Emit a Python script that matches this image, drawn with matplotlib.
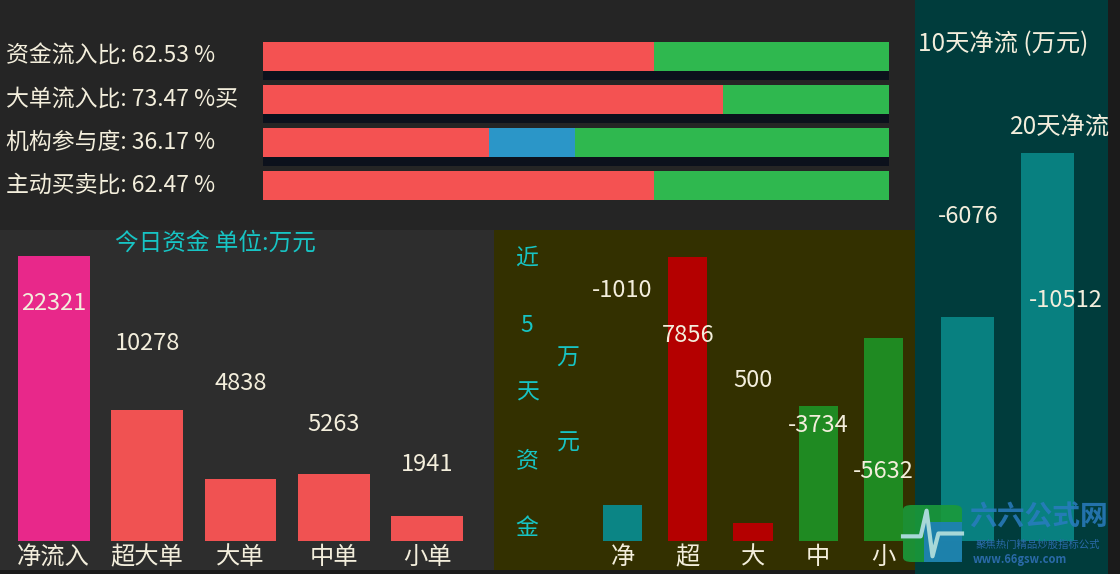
import matplotlib
matplotlib.use('Agg')
import matplotlib.pyplot as plt
from matplotlib.patches import Rectangle, FancyBboxPatch
from matplotlib.transforms import blended_transform_factory

plt.rcParams['font.family'] = ['Noto Sans CJK SC', 'DejaVu Sans']

# ---- data ----
ratio_names = ['资金流入比', '大单流入比', '机构参与度', '主动买卖比']
ratio_values = [62.53, 73.47, 36.17, 62.47]
ratio_suffix = ['', '买', '', '']
ratio_blue = [0, 0, 13.6, 0]

today_cats = ['净流入', '超大单', '大单', '中单', '小单']
today_values = [22321, 10278, 4838, 5263, 1941]

five_cats = ['净', '超', '大', '中', '小']
five_values = [-1010, 7856, 500, -3734, -5632]

long_cats = ['10天净流 (万元)', '20天净流']
long_values = [-6076, -10512]

W, H = 1120, 574
TXT = '#f3eedc'
CYAN = '#17c4c4'


def box(l, t, r, b):
    return [l / W, 1 - b / H, (r - l) / W, (b - t) / H]


def panel(fig, l, t, r, b, color):
    x, y, w, h = box(l, t, r, b)
    fig.add_artist(Rectangle((x, y), w, h, transform=fig.transFigure,
                             facecolor=color, edgecolor='none', zorder=0))


def clean(ax):
    ax.set_axis_off()
    ax.patch.set_visible(False)


fig = plt.figure(figsize=(W / 100, H / 100), dpi=100, facecolor='#1b1b1b')
panel(fig, 0, 0, 915, 230, '#252525')
panel(fig, 0, 230, 494, 570, '#2d2d2d')
panel(fig, 494, 230, 915, 570, '#333000')
panel(fig, 915, 0, 1108, 574, '#003c3c')

# ---- top: stacked ratio bars ----
ax = fig.add_axes(box(263, 35, 889, 207))
clean(ax)
rows = list(range(len(ratio_values)))
green = [100 - r - b for r, b in zip(ratio_values, ratio_blue)]
ax.barh([r + 0.3 for r in rows[:-1]], [100] * (len(rows) - 1), height=0.5,
        color='#0c111c')
ax.barh(rows, ratio_values, height=0.68, color='#f45252')
ax.barh(rows, ratio_blue, left=ratio_values, height=0.68, color='#2b96c8')
ax.barh(rows, green, left=[r + b for r, b in zip(ratio_values, ratio_blue)],
        height=0.68, color='#2fb84f')
ax.set_xlim(0, 100)
ax.set_ylim(len(rows) - 0.5, -0.5)
tr = blended_transform_factory(fig.transFigure, ax.transData)
for i, (n, v, s) in enumerate(zip(ratio_names, ratio_values, ratio_suffix)):
    ax.text(6 / W, i, f'{n}: {v:.2f} %{s}', transform=tr, ha='left', va='center',
            fontsize=16.5, color=TXT)

# ---- bottom left: today's money ----
ax = fig.add_axes(box(7, 230, 474, 541))
clean(ax)
colors = ['#e8288a'] + ['#f05252'] * (len(today_values) - 1)
ax.bar(range(len(today_values)), today_values, width=0.77, color=colors)
ax.set_xlim(-0.5, len(today_values) - 0.5)
ax.set_ylim(0, 24400)
for i, (c, v) in enumerate(zip(today_cats, today_values)):
    ax.text(i, 0.765 - 0.13 * i, str(v), transform=ax.get_xaxis_transform(),
            ha='center', va='center', fontsize=17, color=TXT)
    ax.text(i, -0.052, c, transform=ax.get_xaxis_transform(),
            ha='center', va='center', fontsize=17.5, color=TXT)
fig.text(215 / W, 1 - 243 / H, '今日资金 单位:万元', ha='center', va='center',
         fontsize=17, color=CYAN)

# ---- bottom middle: 5-day money ----
ax = fig.add_axes(box(590, 230, 916, 541))
clean(ax)
colors = ['#0b8585'] + ['#b40000' if v > 0 else '#1f8a22' for v in five_values[1:]]
ax.bar(range(len(five_values)), [abs(v) for v in five_values], width=0.6, color=colors)
ax.set_xlim(-0.5, len(five_values) - 0.5)
ax.set_ylim(0, 8615)
for i, (c, v) in enumerate(zip(five_cats, five_values)):
    ax.text(i, 0.807 - 0.1455 * i, str(v), transform=ax.get_xaxis_transform(),
            ha='center', va='center', fontsize=17, color=TXT)
    ax.text(i, -0.052, c, transform=ax.get_xaxis_transform(),
            ha='center', va='center', fontsize=17.5, color=TXT)
for j, ch in enumerate('近5天资金'):
    fig.text(527 / W, 1 - (258 + 67.5 * j) / H, ch, ha='center', va='center',
             fontsize=16.5, color=CYAN)
for j, ch in enumerate('万元'):
    fig.text(568 / W, 1 - (358 + 85 * j) / H, ch, ha='center', va='center',
             fontsize=16.5, color=CYAN)

# ---- right: 10 / 20 day net flow ----
ax = fig.add_axes(box(928, 130, 1087, 541))
clean(ax)
ax.bar(range(len(long_values)), [abs(v) for v in long_values], width=0.67,
       color='#088080')
ax.set_xlim(-0.5, len(long_values) - 0.5)
ax.set_ylim(0, 11140)
label_shift = [0, 0.23]
label_y = [0.79, 0.585]
for i, v in enumerate(long_values):
    ax.text(i + label_shift[i], label_y[i], str(v), transform=ax.get_xaxis_transform(),
            ha='center', va='center', fontsize=17, color=TXT)
fig.text(918 / W, 1 - 44 / H, long_cats[0], ha='left', va='center',
         fontsize=17.5, color=TXT)
fig.text(1060 / W, 1 - 128 / H, long_cats[1], ha='center', va='center',
         fontsize=17.5, color=TXT)

# ---- site badge in the corner ----
x, y, w, h = box(903, 505, 962, 562)
fig.add_artist(FancyBboxPatch((x, y), w, h, boxstyle='round,pad=0,rounding_size=0.008',
                              transform=fig.transFigure, facecolor='#1a9a3a',
                              edgecolor='none', alpha=0.9, zorder=5))
fig.add_artist(Rectangle((x + w * 0.35, y), w * 0.65, h * 0.7, transform=fig.transFigure,
                         facecolor='#1f7fc0', edgecolor='none', alpha=0.85, zorder=5))
fig.lines.append(plt.Line2D([x, x + w * 0.3, x + w * 0.4, x + w * 0.5, x + w * 0.6, x + w],
                            [y + h * 0.45, y + h * 0.45, y + h * 0.9, y + h * 0.1,
                             y + h * 0.5, y + h * 0.5],
                            transform=fig.transFigure, color='#a8d8d8', lw=3, zorder=6))
fig.text(1038 / W, 1 - 517 / H, '六六公式网', ha='center', va='center', fontsize=20,
         fontweight='bold', color='#2a7cc0', alpha=0.85, zorder=6)
fig.text(1038 / W, 1 - 545 / H, '聚焦热门精品炒股指标公式', ha='center', va='center',
         fontsize=7.5, color='#2a6aa8', zorder=6)
fig.text(1020 / W, 1 - 559 / H, 'www.66gsw.com', ha='center', va='center', fontsize=8,
         fontweight='bold', color='#2a6aa8', zorder=6)

fig.savefig('out.png', dpi=100, facecolor=fig.get_facecolor())
